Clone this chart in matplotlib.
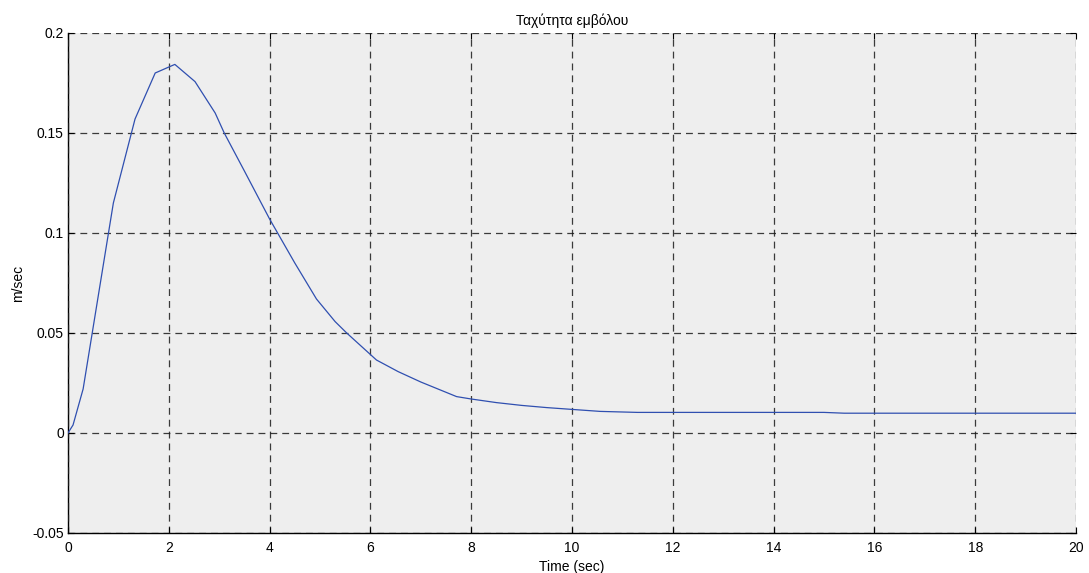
import matplotlib
matplotlib.use("Agg")
import matplotlib.pyplot as plt

plt.rcParams['font.family'] = ['Liberation Sans', 'DejaVu Sans']

# Piston velocity response (time in seconds, velocity in m/sec)
time_s = [0.0, 0.1, 0.3, 0.9, 1.33, 1.73, 2.12, 2.52, 2.92, 3.1, 3.5, 4.0,
          4.5, 4.93, 5.3, 5.53, 6.12, 6.55, 7.0, 7.71, 8.0, 8.5, 9.0, 9.5,
          10.0, 10.56, 11.3, 15.0, 15.4, 20.0]
velocity = [0.0, 0.004, 0.022, 0.115, 0.157, 0.180, 0.1843, 0.1757, 0.160,
            0.150, 0.131, 0.107, 0.085, 0.067, 0.0557, 0.050, 0.0365, 0.0307,
            0.0255, 0.0182, 0.0170, 0.0152, 0.0138, 0.0127, 0.0118, 0.0108,
            0.0103, 0.0103, 0.0099, 0.0099]

x_ticks = [0, 2, 4, 6, 8, 10, 12, 14, 16, 18, 20]
y_ticks = [-0.05, 0, 0.05, 0.1, 0.15, 0.2]
y_tick_labels = ['-0.05', '0', '0.05', '0.1', '0.15', '0.2']

fig = plt.figure(figsize=(10.89, 5.73), dpi=100)
ax = fig.add_axes([68 / 1089, 40 / 573, 1008 / 1089, 500 / 573])
ax.set_facecolor('#eeeeee')

ax.plot(time_s, velocity, color='#2f4fb0', linewidth=0.9, zorder=3)

ax.set_xlim(0, 20)
ax.set_ylim(-0.05, 0.2)
ax.set_xticks(x_ticks)
ax.set_xticklabels([str(t) for t in x_ticks])
ax.set_yticks(y_ticks)
ax.set_yticklabels(y_tick_labels)

ax.grid(True, color='#1a1a1a', linestyle=(0, (5.5, 4)), linewidth=0.9, alpha=0.85)
ax.set_axisbelow(False)

for side in ('top', 'right'):
    ax.spines[side].set_visible(False)
for side in ('left', 'bottom'):
    ax.spines[side].set_linewidth(1.0)
    ax.spines[side].set_color('black')

ax.tick_params(direction='in', length=4, width=0.8, labelsize=10,
               top=True, right=True)
ax.tick_params(axis='x', pad=6)
ax.tick_params(axis='y', pad=3)

ax.set_title('Ταχύτητα εμβόλου', fontsize=10, pad=6)
ax.set_xlabel('Time (sec)', fontsize=10, labelpad=3)
ax.set_ylabel('m/sec', fontsize=10, labelpad=5)

fig.savefig('out.png', dpi=100)
